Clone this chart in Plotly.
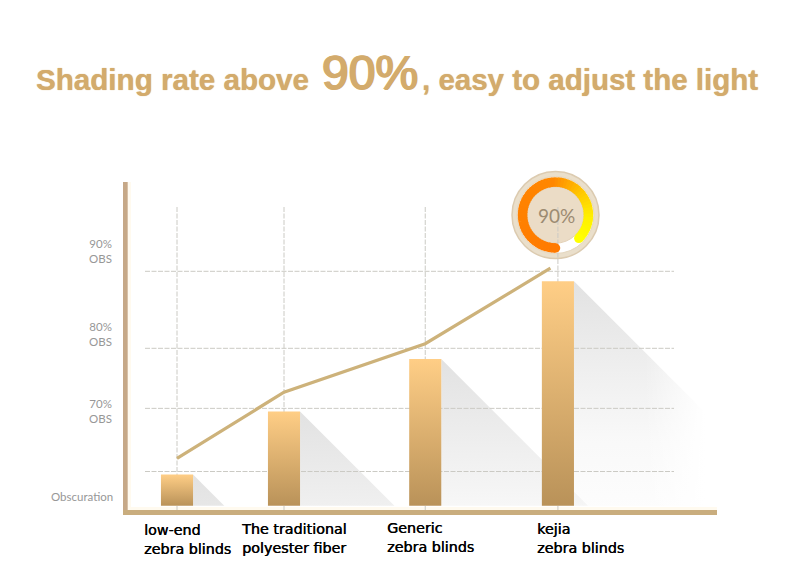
import math
import plotly.graph_objects as go

W, H = 790, 566

# ---- data ----
categories = ["low-end<br>zebra blinds", "The traditional<br>polyester fiber",
              "Generic<br>zebra blinds", "kejia<br>zebra blinds"]
category_pos = [1.0, 2.0, 3.32, 4.56]      # unevenly spaced in the source
bar_values = [63.6, 71.8, 78.6, 88.7]
line_pos = [1.0, 2.0, 3.32, 4.49]
line_values = [65.7, 74.3, 80.6, 90.4]
grid_levels = [64.0, 72.2, 80.0, 90.0]
tick_labels = ["90%<br>OBS", "80%<br>OBS", "70%<br>OBS", "Obscuration"]
gauge_value = 90
title_parts = ["Shading rate above", "90%", ", easy to adjust the light"]

BASE = 59.55
BAR_HALF = 0.15

# axis calibration
X_UNIT = 107.0
Y_UNIT = 7.7
def px_x(p): return 1 + (p - 177) / X_UNIT
def px_y(p): return 90 - (p - 271.3) / Y_UNIT
def to_px_x(v): return 177 + (v - 1) * X_UNIT
def to_px_y(v): return 271.3 + (90 - v) * Y_UNIT
def fx(p): return p / W
def fy(p): return 1 - p / H

fig = go.Figure()

# cast shadows (45 degrees in pixels), fading downwards
SHADOW_DEPTH = 225 / Y_UNIT
for c, v in zip(category_pos, bar_values):
    r = c + BAR_HALF
    h = to_px_y(BASE) - to_px_y(v)
    tip = r + h / X_UNIT
    fig.add_trace(go.Scatter(
        x=[r, r, tip, r], y=[v, BASE, BASE, v], mode="lines", fill="toself",
        line=dict(width=0, color="rgba(0,0,0,0)"),
        fillgradient=dict(type="vertical", start=v - SHADOW_DEPTH, stop=v,
                          colorscale=[[0, "rgba(226,226,226,0.08)"],
                                      [0.3, "rgba(226,226,226,0.22)"],
                                      [0.6, "rgba(226,226,226,0.55)"],
                                      [1, "rgba(226,226,226,1)"]])))

# the right side of the tallest shadow dissolves into the page
fade_x = [px_x(645), px_x(800), px_x(800), px_x(645), px_x(645)]
fade_y = [BASE - 0.1, BASE - 0.1, bar_values[-1], bar_values[-1], BASE - 0.1]
fig.add_trace(go.Scatter(
    x=fade_x, y=fade_y, mode="lines", fill="toself",
    line=dict(width=0, color="rgba(0,0,0,0)"),
    fillgradient=dict(type="horizontal", start=px_x(645), stop=px_x(705),
                      colorscale=[[0, "rgba(255,255,255,0)"], [1, "rgba(255,255,255,1)"]])))

# dashed grid
GRID = "#CBCAC4"
for g in grid_levels:
    fig.add_trace(go.Scatter(x=[px_x(145), px_x(674)], y=[g, g], mode="lines",
                             line=dict(color=GRID, width=1, dash="5px,1.5px")))
for c in category_pos:
    fig.add_trace(go.Scatter(x=[c, c], y=[px_y(207), px_y(510)], mode="lines",
                             line=dict(color=GRID, width=1, dash="5px,1.5px")))

# bars with a vertical gradient
for c, v in zip(category_pos, bar_values):
    l, r = c - BAR_HALF, c + BAR_HALF
    fig.add_trace(go.Scatter(
        x=[l, r, r, l, l], y=[BASE, BASE, v, v, BASE], mode="lines", fill="toself",
        line=dict(width=0, color="rgba(0,0,0,0)"),
        fillgradient=dict(type="vertical",
                          colorscale=[[0, "#B99259"], [1, "#FFCE86"]])))

# trend line
fig.add_trace(go.Scatter(x=line_pos, y=line_values, mode="lines",
                         line=dict(color="#CDB27A", width=3.2)))

# gauge ring
CX, CY = 555.5, 215.0
R_RING, RING_W = 33.0, 9.5
START = 180.0
SWEEP = 315.0 * gauge_value / 90
N = 60
stops = [(0.0, (255, 122, 0)), (0.55, (255, 135, 0)), (0.72, (255, 200, 0)),
         (0.86, (255, 240, 0)), (1.0, (255, 255, 0))]
def ring_col(t):
    for (t0, c0), (t1, c1) in zip(stops, stops[1:]):
        if t <= t1:
            k = (t - t0) / (t1 - t0)
            return "rgb(%d,%d,%d)" % tuple(round(a + (b - a) * k) for a, b in zip(c0, c1))
    return "rgb(255,255,0)"
def ring_xy(t):
    a = math.radians(START + SWEEP * t)
    return px_x(CX + R_RING * math.sin(a)), px_y(CY - R_RING * math.cos(a))
for i in range(N):
    p0, p1 = ring_xy(i / N), ring_xy((i + 1.3) / N if i < N - 1 else 1)
    fig.add_trace(go.Scatter(x=[p0[0], p1[0]], y=[p0[1], p1[1]], mode="lines",
                             line=dict(color=ring_col(i / N), width=RING_W)))
for t in (0, 1):
    p = ring_xy(t)
    fig.add_trace(go.Scatter(x=[p[0]], y=[p[1]], mode="markers",
                             marker=dict(color=ring_col(t), size=RING_W, line=dict(width=0))))

def circle(r, fill, line=None, lw=0):
    return dict(type="circle", xref="paper", yref="paper", layer="below",
                x0=fx(CX - r), x1=fx(CX + r), y0=fy(CY + r), y1=fy(CY - r),
                fillcolor=fill, line=dict(color=line or fill, width=lw))
def rect(x0, x1, y0, y1, col):
    return dict(type="rect", xref="paper", yref="paper", layer="below",
                x0=fx(x0), x1=fx(x1), y0=fy(y1), y1=fy(y0),
                fillcolor=col, line=dict(width=0))

shapes = [
    rect(127.5, 131, 182, 510, "#FFFAEF"),
    rect(128, 717, 507, 510, "#FFFAEF"),
    rect(123, 127.7, 182, 515, "#C6A887"),
    rect(123, 717, 510, 515, "#C9AD7E"),
    circle(43.5, "#EADFCB", "#DCCBB0", 1.5),
    circle(38.5, "#FFFFFF", "#E4D6BE", 1),
    circle(28.2, "#EBDCC6", "#E3D2B8", 1),
]

ann = []
def text(x, y, s, size, color, family, anchor="left", bold=False, shadow=None):
    font = dict(size=size, color=color, family=family, weight="bold" if bold else "normal")
    if shadow:
        font["shadow"] = shadow
    ann.append(dict(x=fx(x), y=fy(y), xref="paper", yref="paper", text=s, showarrow=False,
                    xanchor=anchor, yanchor="middle", align=anchor, font=font))

GOLD = "#D3AB6C"
SOFT = "0 0 1px #D3AB6C"
text(34, 79, title_parts[0], 29.6, GOLD, "Liberation Sans", bold=True, shadow=SOFT)
text(319.5, 72, title_parts[1], 48, GOLD, "Liberation Sans",
     shadow="1px 0 0 #D3AB6C, -1px 0 0 #D3AB6C, 0 1px 0 #D3AB6C")
text(420, 79, title_parts[2], 29.5, GOLD, "Liberation Sans", bold=True, shadow=SOFT)

text(556, 215, f"{gauge_value}%", 19, "#9C8B72", "Lato", anchor="center")

GREY = "#979797"
for s, y in zip(tick_labels[:3], (251, 334, 411)):
    text(114, y, s, 11.5, GREY, "Lato", anchor="right")
text(115, 496, tick_labels[3], 11.5, GREY, "Lato", anchor="right")

for s, x, y in zip(categories, (142, 239, 385, 535), (539, 538, 537, 538)):
    text(x, y, s, 14.3, "#000000", "DejaVu Sans", shadow="0.4px 0 0 #000000")

fig.update_layout(
    width=W, height=H, margin=dict(l=0, r=0, t=0, b=0),
    paper_bgcolor="white", plot_bgcolor="white", showlegend=False,
    xaxis=dict(visible=False, range=[px_x(0), px_x(W)], fixedrange=True),
    yaxis=dict(visible=False, range=[px_y(H), px_y(0)], fixedrange=True),
    shapes=shapes, annotations=ann,
)
fig.write_html("out.html", config=dict(displayModeBar=False),
               post_script="document.body.style.margin='0';document.body.style.overflow='hidden';")
